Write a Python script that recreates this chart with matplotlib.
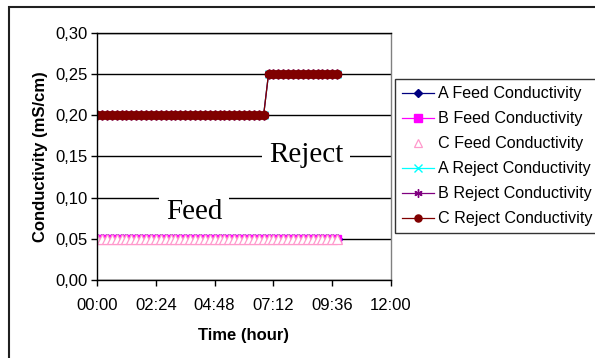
import matplotlib
matplotlib.use("Agg")
import matplotlib.pyplot as plt
from matplotlib.patches import Rectangle
from matplotlib.ticker import FuncFormatter, MultipleLocator

# sampling time in hours (one reading every 12 min)
time_h = [0.0, 0.2, 0.4, 0.6, 0.8, 1.0, 1.2, 1.4, 1.6, 1.8,
          2.0, 2.2, 2.4, 2.6, 2.8, 3.0, 3.2, 3.4, 3.6, 3.8,
          4.0, 4.2, 4.4, 4.6, 4.8, 5.0, 5.2, 5.4, 5.6, 5.8,
          6.0, 6.2, 6.4, 6.6, 6.8, 7.0, 7.2, 7.4, 7.6, 7.8,
          8.0, 8.2, 8.4, 8.6, 8.8, 9.0, 9.2, 9.4, 9.6, 9.8]

feed = [0.05, 0.05, 0.05, 0.05, 0.05, 0.05, 0.05, 0.05, 0.05, 0.05,
        0.05, 0.05, 0.05, 0.05, 0.05, 0.05, 0.05, 0.05, 0.05, 0.05,
        0.05, 0.05, 0.05, 0.05, 0.05, 0.05, 0.05, 0.05, 0.05, 0.05,
        0.05, 0.05, 0.05, 0.05, 0.05, 0.05, 0.05, 0.05, 0.05, 0.05,
        0.05, 0.05, 0.05, 0.05, 0.05, 0.05, 0.05, 0.05, 0.05, 0.05]

reject = [0.20, 0.20, 0.20, 0.20, 0.20, 0.20, 0.20, 0.20, 0.20, 0.20,
          0.20, 0.20, 0.20, 0.20, 0.20, 0.20, 0.20, 0.20, 0.20, 0.20,
          0.20, 0.20, 0.20, 0.20, 0.20, 0.20, 0.20, 0.20, 0.20, 0.20,
          0.20, 0.20, 0.20, 0.20, 0.20, 0.25, 0.25, 0.25, 0.25, 0.25,
          0.25, 0.25, 0.25, 0.25, 0.25, 0.25, 0.25, 0.25, 0.25, 0.25]

plt.rcParams['font.family'] = ['Liberation Sans', 'DejaVu Sans']

fig = plt.figure(figsize=(5.95, 3.58), dpi=100)
ax = fig.add_axes([97/595, 78/358, 294/595, 247/358])

# all three units read the same value, so the series sit on top of each other
ax.plot(time_h, feed, color='#000080', lw=0.9, marker='D', ms=5,
        label='A Feed Conductivity')
ax.plot(time_h, feed, color='#FF00FF', lw=0.9, marker='s', ms=6,
        label='B Feed Conductivity')
ax.plot(time_h, feed, ls='none', marker='^', ms=6.5, mfc='white',
        mec='#FF99CC', mew=0.9, label='C Feed Conductivity')
ax.plot(time_h, reject, color='#00FFFF', lw=0.9, marker='x', ms=6,
        label='A Reject Conductivity')
ax.plot(time_h, reject, color='#800080', lw=0.9, marker=(6, 2, 0), ms=7,
        label='B Reject Conductivity')
ax.plot(time_h, reject, color='#800000', lw=0.9, marker='o', ms=6,
        label='C Reject Conductivity')

ax.set_xlim(0, 12)
ax.set_ylim(0, 0.30)
ax.xaxis.set_major_locator(MultipleLocator(2.4))
ax.yaxis.set_major_locator(MultipleLocator(0.05))
ax.xaxis.set_major_formatter(FuncFormatter(
    lambda v, p: '%02d:%02d' % (int(round(v * 60)) // 60, int(round(v * 60)) % 60)))
ax.yaxis.set_major_formatter(FuncFormatter(lambda v, p: ('%.2f' % v).replace('.', ',')))
ax.tick_params(direction='out', length=4, width=1, labelsize=12, colors='black', pad=3)
ax.tick_params(axis='x', pad=9)

ax.grid(axis='y', color='black', lw=1)
ax.set_axisbelow(True)
for s in ax.spines.values():
    s.set_linewidth(1)
ax.spines['right'].set_color('#808080')
ax.spines['top'].set_color('black')

ax.set_xlabel('Time (hour)', fontsize=12, fontweight='bold', labelpad=11)
ax.set_ylabel('Conductivity (mS/cm)', fontsize=12, fontweight='bold', labelpad=5)

ax.text(8.53, 0.152, 'Reject', family='Liberation Serif', fontsize=21,
        ha='center', va='center', bbox=dict(facecolor='white', edgecolor='none',
                                             boxstyle='square,pad=0.22'))
ax.text(3.96, 0.083, 'Feed', family='Liberation Serif', fontsize=21,
        ha='center', va='center', bbox=dict(facecolor='white', edgecolor='none',
                                            boxstyle='square,pad=0.22'))

leg = ax.legend(loc='upper left', bbox_to_anchor=(395/595, 1 - 79/358),
                bbox_transform=fig.transFigure, borderaxespad=0,
                fontsize=11.6, frameon=True, fancybox=False, edgecolor='black',
                handlelength=1.95, handletextpad=0.25, labelspacing=0.62,
                borderpad=0.45, markerscale=0.85)
leg.get_frame().set_linewidth(1)

# outer chart border
fig.add_artist(Rectangle((9/595, -0.05), 1.0, 1 - 7/358 + 0.05,
                         transform=fig.transFigure, fill=False,
                         edgecolor='#202020', lw=1.5))

fig.savefig('out.png', dpi=100)
